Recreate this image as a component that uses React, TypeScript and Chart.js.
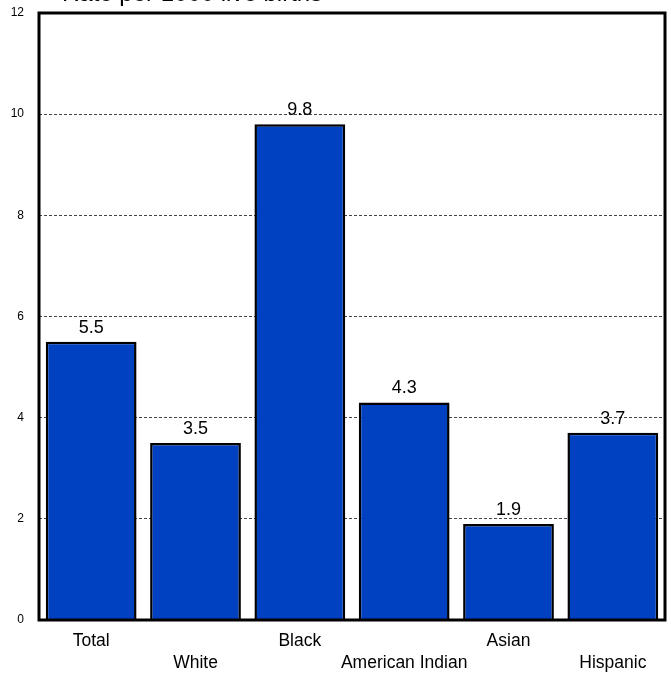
import React, { useEffect, useRef } from "react";
import { Chart, registerables } from "chart.js";

Chart.register(...registerables);

const categories: string[][] = [
  ["Total", ""],
  ["", "White"],
  ["Black", ""],
  ["", "American Indian"],
  ["Asian", ""],
  ["", "Hispanic"],
];
const values: number[] = [5.5, 3.5, 9.8, 4.3, 1.9, 3.7];
const yTicks: number[] = [0, 2, 4, 6, 8, 10, 12];
const titleText = "Rate per 1000 live births";

const FONT = "Arial, 'Liberation Sans', sans-serif";

const framePlugin = {
  id: "frame",
  afterDatasetsDraw(chart: any) {
    const { ctx, chartArea } = chart;
    ctx.save();
    ctx.strokeStyle = "#000";
    ctx.lineWidth = 3;
    ctx.strokeRect(chartArea.left, chartArea.top, chartArea.right - chartArea.left, chartArea.bottom - chartArea.top);
    const meta = chart.getDatasetMeta(0);
    ctx.fillStyle = "#000";
    ctx.font = "18px " + FONT;
    ctx.textAlign = "center";
    ctx.textBaseline = "alphabetic";
    meta.data.forEach((bar: any, i: number) => {
      ctx.fillText(values[i].toFixed(1), bar.x, bar.y - 9);
    });
    ctx.textAlign = "left";
    ctx.font = "24px " + FONT;
    ctx.fillText(titleText, 62, 1);
    ctx.restore();
  },
};

export default function App() {
  const ref = useRef<HTMLCanvasElement>(null);
  useEffect(() => {
    document.body.style.margin = "0";
    const chart = new Chart(ref.current!, {
      type: "bar",
      data: {
        labels: categories,
        datasets: [
          {
            data: values,
            backgroundColor: "#0041C2",
            borderColor: "#000",
            borderWidth: 2.5,
            barPercentage: 0.87,
            categoryPercentage: 1,
          },
        ],
      },
      options: {
        animation: false,
        responsive: false,
        layout: { padding: { top: 0, right: 6, left: 0, bottom: 0 } },
        plugins: { legend: { display: false }, tooltip: { enabled: false }, title: { display: false } },
        scales: {
          x: {
            grid: { display: false, drawTicks: false },
            border: { display: false },
            ticks: {
              color: "#000",
              font: { family: FONT, size: 17.5, lineHeight: 1.25 },
              padding: 10,
              maxRotation: 0,
              autoSkip: false,
            },
            afterFit: (s: any) => {
              s.height = 53;
            },
          },
          y: {
            min: 0,
            max: 12,
            afterBuildTicks: (s: any) => {
              s.ticks = yTicks.map((v) => ({ value: v }));
            },
            grid: {
              color: (c: any) => (c.tick && (c.tick.value === 0 || c.tick.value === 12) ? "rgba(0,0,0,0)" : "#444"),
              lineWidth: 1,
              drawTicks: false,
            },
            border: { display: false, dash: [3, 2] },
            ticks: {
              color: "#000",
              font: { family: FONT, size: 12 },
              padding: 15,
            },
            afterFit: (s: any) => {
              s.width = 39;
              s.paddingTop = 13;
              s.paddingBottom = 0;
            },
          },
        },
      },
      plugins: [framePlugin],
    });
    return () => chart.destroy();
  }, []);
  return (
    <div style={{ width: 671, height: 673 }}>
      <canvas ref={ref} width={671} height={673} style={{ display: "block" }} />
    </div>
  );
}
